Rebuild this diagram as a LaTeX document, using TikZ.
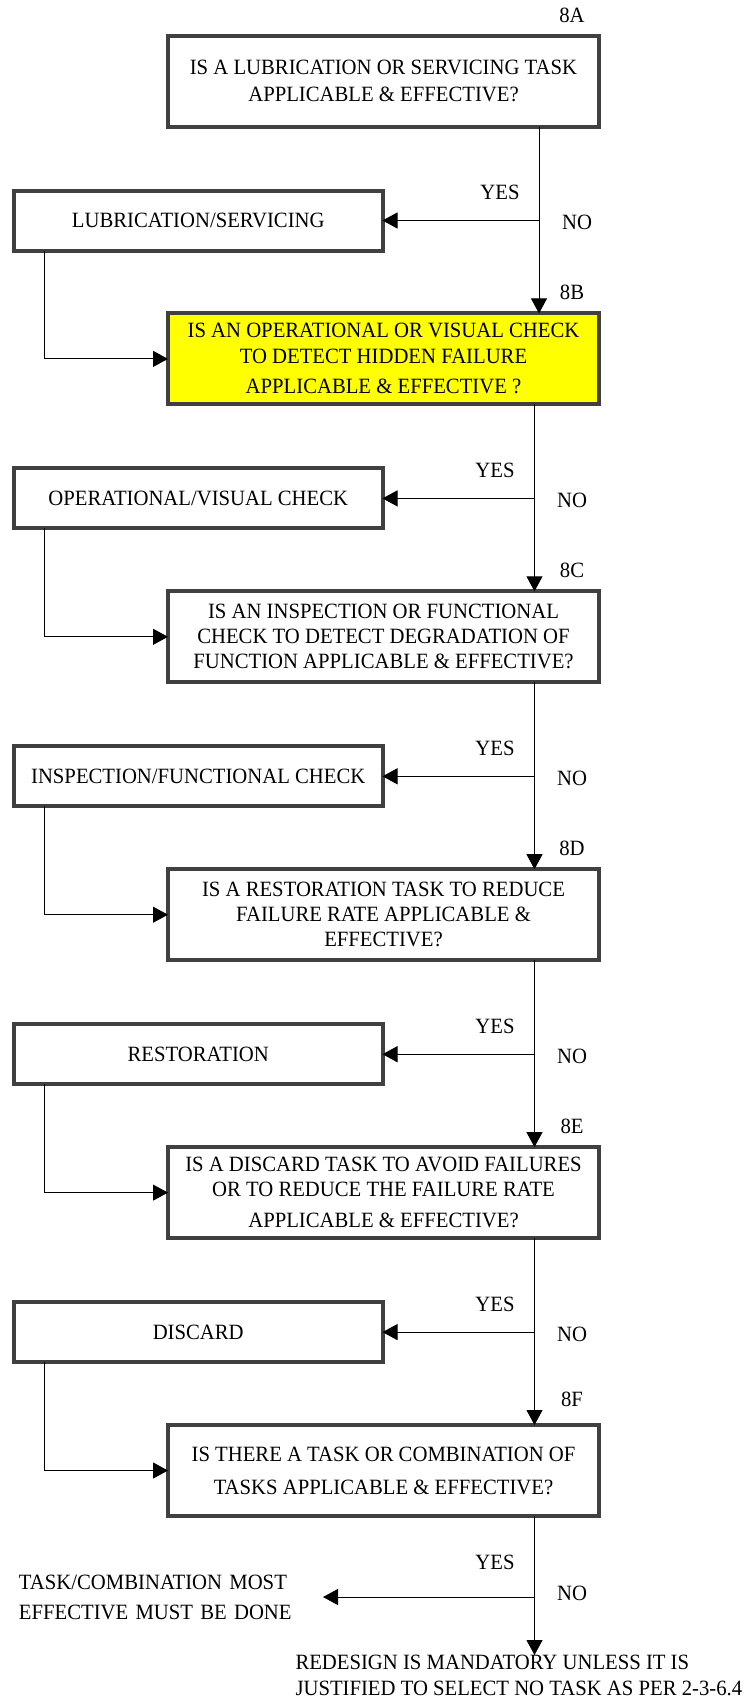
\documentclass[tikz,border=0pt]{standalone}
\usepackage{fontspec}
\setmainfont{Liberation Serif}[FakeStretch=0.95]
\usetikzlibrary{arrows.meta}
\definecolor{boxgray}{HTML}{404040}
\definecolor{qyellow}{HTML}{FFFF00}
\begin{document}
\begin{tikzpicture}[x=1pt,y=-1pt,
  every node/.style={font=\fontsize{21.8}{25}\selectfont, inner sep=0pt, outer sep=0pt},
  qbox/.style={draw=boxgray, line width=4pt, minimum width=431pt, minimum height=91pt, align=center, fill=white},
  abox/.style={draw=boxgray, line width=4pt, minimum width=368.5pt, minimum height=60pt, align=center, fill=white},
  arr/.style={-{Triangle[length=15pt,width=16pt]}, line width=1pt, black}]
\useasboundingbox (0,0) rectangle (744,1698);
\fill[white] (0,0) rectangle (744,1698);

% question boxes
\node[qbox] (q8A) at (383.5,81) {IS A LUBRICATION OR SERVICING TASK\\[2pt]APPLICABLE \& EFFECTIVE?};
\node[qbox, fill=qyellow] (q8B) at (383.5,358.9) {IS AN OPERATIONAL OR VISUAL CHECK\\[1pt]TO DETECT HIDDEN FAILURE\\[5pt]APPLICABLE \& EFFECTIVE ?};
\node[qbox] (q8C) at (383.5,636.8) {IS AN INSPECTION OR FUNCTIONAL\\CHECK TO DETECT DEGRADATION OF\\FUNCTION APPLICABLE \& EFFECTIVE?};
\node[qbox] (q8D) at (383.5,914.7) {IS A RESTORATION TASK TO REDUCE\\FAILURE RATE APPLICABLE \&\\EFFECTIVE?};
\node[qbox] (q8E) at (383.5,1192.6) {IS A DISCARD TASK TO AVOID FAILURES\\OR TO REDUCE THE FAILURE RATE\\[6pt]APPLICABLE \& EFFECTIVE?};
\node[qbox] (q8F) at (383.5,1470.5) {IS THERE A TASK OR COMBINATION OF\\[8pt]TASKS APPLICABLE \& EFFECTIVE?};

% answer boxes
\node[abox] (a1) at (198.25,220.5) {LUBRICATION/SERVICING};
\node[abox] (a2) at (198.25,498.4) {OPERATIONAL/VISUAL CHECK};
\node[abox] (a3) at (198.25,776.3) {INSPECTION/FUNCTIONAL CHECK};
\node[abox] (a4) at (198.25,1054.2) {RESTORATION};
\node[abox] (a5) at (198.25,1332.1) {DISCARD};

% final texts
\node[anchor=west, text width=304pt, align=left] (done) at (19,1597) {TASK/COMBINATION MOST\\[5pt]EFFECTIVE MUST BE DONE};
\node[anchor=north west, align=left] (redesign) at (295.5,1655) {REDESIGN IS MANDATORY UNLESS IT IS\\[1pt]JUSTIFIED TO SELECT NO TASK AS PER 2-3-6.4};

% step labels
\node (l8A) at (572,15) {8A};
\node (l8B) at (572,292.4) {8B};
\node (l8C) at (572,570.3) {8C};
\node (l8D) at (572,848.2) {8D};
\node (l8E) at (572,1126.1) {8E};
\node (l8F) at (572,1399) {8F};

% YES / NO labels
\node (y1) at (500,192.5) {YES};
\node (n1) at (577,222.5) {NO};
\node (y2) at (495,470.4) {YES};
\node (n2) at (572,500.4) {NO};
\node (y3) at (495,748.3) {YES};
\node (n3) at (572,778.3) {NO};
\node (y4) at (495,1026.2) {YES};
\node (n4) at (572,1056.2) {NO};
\node (y5) at (495,1304.1) {YES};
\node (n5) at (572,1334.1) {NO};
\node (y6) at (495,1562) {YES};
\node (n6) at (572,1593) {NO};

% axes
\coordinate (axA) at (539,0);
\coordinate (ax) at (534.5,0);
\coordinate (fx) at (44,0);

% connectors
\draw[arr] (axA |- q8A.south) -- (axA |- q8B.north);
\draw[arr] (axA |- a1.east) -- (a1.east);
\draw[arr] (fx |- a1.south) |- (q8B.west);

\draw[arr] (ax |- q8B.south) -- (ax |- q8C.north);
\draw[arr] (ax |- a2.east) -- (a2.east);
\draw[arr] (fx |- a2.south) |- (q8C.west);

\draw[arr] (ax |- q8C.south) -- (ax |- q8D.north);
\draw[arr] (ax |- a3.east) -- (a3.east);
\draw[arr] (fx |- a3.south) |- (q8D.west);

\draw[arr] (ax |- q8D.south) -- (ax |- q8E.north);
\draw[arr] (ax |- a4.east) -- (a4.east);
\draw[arr] (fx |- a4.south) |- (q8E.west);

\draw[arr] (ax |- q8E.south) -- (ax |- q8F.north);
\draw[arr] (ax |- a5.east) -- (a5.east);
\draw[arr] (fx |- a5.south) |- (q8F.west);

\draw[arr] (ax |- q8F.south) -- (ax |- redesign.north);
\draw[arr] (ax |- done.east) -- (done.east);
\end{tikzpicture}
\end{document}
